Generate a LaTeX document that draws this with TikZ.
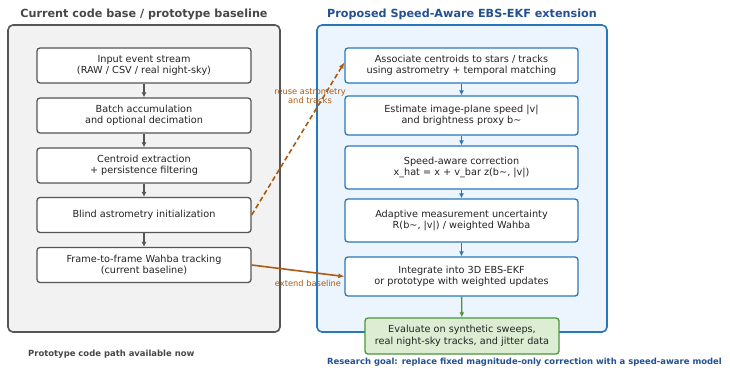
\documentclass[tikz,border=0pt]{standalone}
\usepackage{fontspec}
\setmainfont{DejaVu Sans}
\usetikzlibrary{arrows.meta}
\definecolor{panelgray}{RGB}{242,242,242}
\definecolor{edgegray}{RGB}{85,85,85}
\definecolor{titlegray}{RGB}{70,70,70}
\definecolor{panelblue}{RGB}{236,244,253}
\definecolor{edgeblue}{RGB}{40,120,185}
\definecolor{titleblue}{RGB}{35,80,145}
\definecolor{evalgreen}{RGB}{220,237,212}
\definecolor{edgegreen}{RGB}{75,150,60}
\definecolor{linkorange}{RGB}{175,90,15}
\definecolor{bodytext}{RGB}{35,35,35}
\newcommand{\bodyfont}{\fontsize{9.7}{11.5}\selectfont}
\begin{document}
\begin{tikzpicture}[x=1pt, y=-1pt,
          panel/.style      = {rounded corners = 5pt,
                              line width      = 1.6pt},
          stage/.style      = {draw,
                              fill           = white,
                              text           = bodytext,
                              rounded corners = 3pt,
                              line width      = 1.3pt,
                              align          = center,
                              inner sep      = 0pt,
                              font           = \bodyfont},
          flow/.style       = {-{Latex[length=5pt,width=5pt]},
                              line width = 1.4pt},
          link/.style       = {-{Latex[length=6pt,width=5pt]},
                              line width = 1.6pt,
                              color      = linkorange},
          linklabel/.style  = {text  = linkorange,
                              align = center,
                              font  = \fontsize{8.3}{9}\selectfont},
          note/.style       = {anchor    = west,
                              inner sep = 0pt,
                              font      = \bfseries\fontsize{8.45}{10}\selectfont}]
  \useasboundingbox (0,0) rectangle (730,367);

  % the two panels
  \draw [panel, draw=edgegray, fill=panelgray]  (8,25)   rectangle (280,332);
  \draw [panel, draw=edgeblue, fill=panelblue] (317,25) rectangle (607,332);

  \node [text=titlegray, font=\bfseries\fontsize{11.2}{13}\selectfont]
        (lefttitle)  at (144,14) {Current code base / prototype baseline};
  \node [text=titleblue, font=\bfseries\fontsize{11.2}{13}\selectfont]
        (righttitle) at (462,14) {Proposed Speed-Aware EBS-EKF extension};

  % current pipeline
  \begin{scope}[every node/.style = {stage,
                                     draw           = edgegray,
                                     minimum width  = 214pt,
                                     minimum height = 35pt}]
    \node (input)  at (144,65.5)  {Input event stream\\(RAW / CSV / real night-sky)};
    \node (batch)  at (144,115.5) {Batch accumulation\\and optional decimation};
    \node (cent)   at (144,165.5) {Centroid extraction\\+ persistence filtering};
    \node (blind)  at (144,215)   {Blind astrometry initialization};
    \node (wahba)  at (144,265)   {Frame-to-frame Wahba tracking\\(current baseline)};
  \end{scope}

  \foreach \a/\b in {input/batch, batch/cent, cent/blind, blind/wahba}
    \draw [flow, edgegray] (\a) -- (\b);

  % proposed pipeline
  \begin{scope}[every node/.style = {stage,
                                     draw           = edgeblue,
                                     minimum width  = 233pt}]
    \node [minimum height=35pt] (assoc)  at (461.5,65.5)
          {Associate centroids to stars / tracks\\using astrometry + temporal matching};
    \node [minimum height=39pt] (speed)  at (461.5,115.5)
          {Estimate image-plane speed |v|\\and brightness proxy b\char`\~};
    \node [minimum height=43pt] (corr)   at (461.5,167.5)
          {Speed-aware correction\\x\_hat = x + v\_bar z(b\char`\~, |v|)};
    \node [minimum height=43pt] (adapt)  at (461.5,220.5)
          {Adaptive measurement uncertainty\\R(b\char`\~, |v|) / weighted Wahba};
    \node [minimum height=39pt] (ekf)    at (461.5,276.5)
          {Integrate into 3D EBS-EKF\\or prototype with weighted updates};
  \end{scope}

  \foreach \a/\b in {assoc/speed, speed/corr, corr/adapt, adapt/ekf}
    \draw [flow, edgeblue] (\a) -- (\b);

  \node [stage, draw=edgegreen, fill=evalgreen,
         minimum width = 194pt, minimum height = 36pt]
        (eval) at (462,336)
        {Evaluate on synthetic sweeps,\\real night-sky tracks, and jitter data};
  \draw [flow, edgegreen] (ekf) -- (eval);

  % links between the panels
  \draw [link, dash pattern=on 5pt off 3pt] (blind.east) -- ([yshift=3pt]assoc.west);
  \draw [link] (wahba.east) -- (ekf.west);
  \node [linklabel] (reuse)  at (310,96.5) {reuse astrometry\\and tracks};
  \node [linklabel] (extend) at (308,283)  {extend baseline};

  % footnotes
  \node [note, text=titlegray] (leftnote)  at (28,354)
        {Prototype code path available now};
  \node [note, text=titleblue] (rightnote) at (327,362)
        {Research goal: replace fixed magnitude-only correction with a speed-aware model};
\end{tikzpicture}
\end{document}
